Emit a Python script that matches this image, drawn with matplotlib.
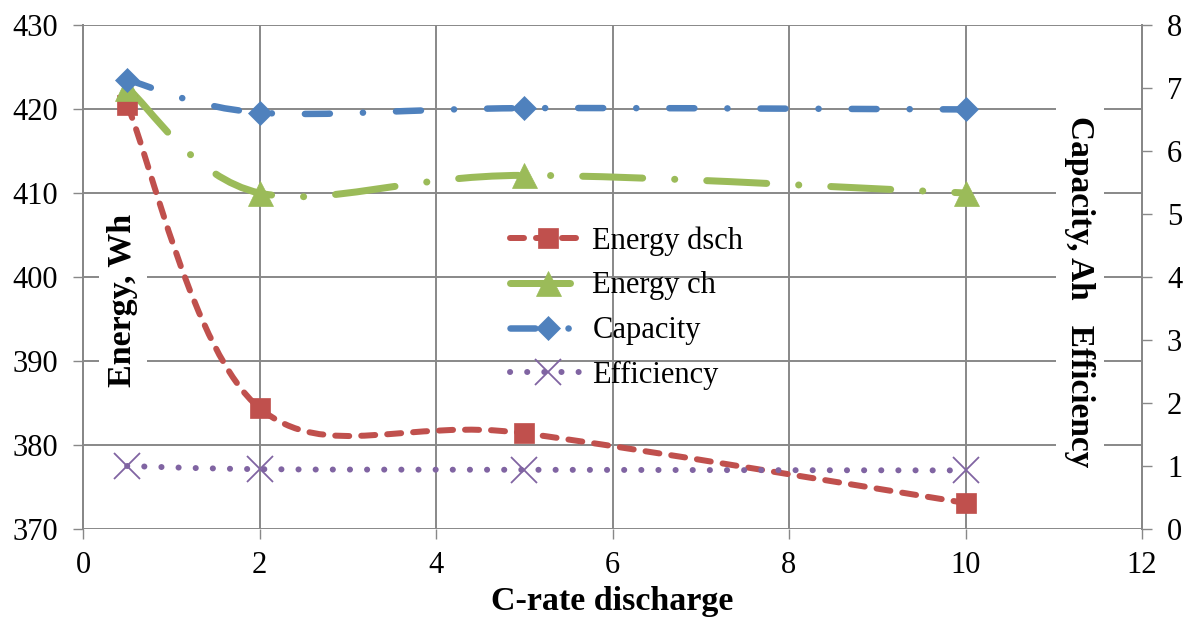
import matplotlib
matplotlib.use("Agg")
import matplotlib.pyplot as plt
import numpy as np
from matplotlib.path import Path
from matplotlib.patches import PathPatch
from matplotlib.lines import Line2D

plt.rcParams["font.family"] = "Liberation Serif"
plt.rcParams["lines.scale_dashes"] = False

# data
crate = [0.5, 2, 5, 10]
energy_dsch = [420.5, 384.4, 381.4, 373.1]   # Wh, left axis
energy_ch = [422.5, 410.0, 412.1, 410.0]     # Wh, left axis
capacity = [7.13, 6.61, 6.68, 6.66]          # Ah, right axis
efficiency = [1.00, 0.95, 0.94, 0.93]        # right axis

x_ticks = [0, 2, 4, 6, 8, 10, 12]
left_ticks = [370, 380, 390, 400, 410, 420, 430]
right_ticks = [0, 1, 2, 3, 4, 5, 6, 7, 8]

RED, GREEN, BLUE, PURPLE = "#C0504D", "#9BBB59", "#4F81BD", "#8064A2"
GRID = "#888888"
PX = 0.72  # points per pixel at dpi 100


def smooth_path(x, y):
    """Excel-style smoothed line: cubic Bezier through the points."""
    pts = np.column_stack([x, y]).astype(float)
    n = len(pts)
    verts, codes = [pts[0]], [Path.MOVETO]
    for i in range(n - 1):
        p0, p1 = pts[max(i - 1, 0)], pts[i]
        p2, p3 = pts[i + 1], pts[min(i + 2, n - 1)]
        verts += [p1 + (p2 - p0) / 6, p2 - (p3 - p1) / 6, p2]
        codes += [Path.CURVE4] * 3
    return Path(verts, codes)


STYLES = {
    "Energy dsch": dict(color=RED, lw=6 * PX, ls=(0, (14 * PX, 12 * PX)), marker="s", ms=15),
    "Energy ch": dict(color=GREEN, lw=7 * PX, ls=(0, (60 * PX, 32 * PX, 0.1, 32 * PX)), marker="^", ms=18),
    "Capacity": dict(color=BLUE, lw=6.5 * PX, ls=(0, (25 * PX, 33 * PX, 0.1, 33 * PX)), marker="D", ms=12.5),
    "Efficiency": dict(color=PURPLE, lw=6 * PX, ls=(0, (0.1, 17 * PX)), marker="x", ms=19),
}

fig = plt.figure(figsize=(11.92, 6.28), dpi=100)
ax = fig.add_axes([83 / 1192, 1 - 529 / 628, (1142 - 83) / 1192, (529 - 25) / 628])
ax2 = ax.twinx()


def draw(axis, x, y, name):
    st = STYLES[name]
    patch = PathPatch(smooth_path(x, y), fill=False, edgecolor=st["color"], lw=st["lw"],
                      linestyle=st["ls"], capstyle="round", joinstyle="round", zorder=3)
    axis.add_patch(patch)
    if st["marker"] == "x":
        axis.plot(x, y, ls="none", marker="x", ms=st["ms"], mec=st["color"], mew=1.3, zorder=4)
    else:
        axis.plot(x, y, ls="none", marker=st["marker"], ms=st["ms"], mfc=st["color"],
                  mec=st["color"], mew=0.5, zorder=4)


draw(ax, crate, energy_dsch, "Energy dsch")
draw(ax, crate, energy_ch, "Energy ch")
draw(ax2, crate, capacity, "Capacity")
draw(ax2, crate, efficiency, "Efficiency")

ax.set_xlim(0, 12)
ax.set_ylim(370, 430)
ax2.set_ylim(0, 8)
ax.set_xticks(x_ticks)
ax.set_yticks(left_ticks)
ax2.set_yticks(right_ticks)

ax.grid(True, color=GRID, lw=1.4)
ax.set_axisbelow(True)
for a in (ax, ax2):
    for side in ("top", "bottom"):
        a.spines[side].set_visible(False)
    a.spines["left"].set_color(GRID)
    a.spines["right"].set_color(GRID)
    a.spines["left"].set_linewidth(1.4)
    a.spines["right"].set_linewidth(1.4)
ax.tick_params(axis="both", direction="out", length=7, width=1.0, color=GRID,
               labelsize=22, pad=11)
ax2.tick_params(axis="y", direction="out", length=7, width=1.0, color=GRID,
                labelsize=22, pad=11)
ax.tick_params(axis="x", pad=9)

ax.set_xlabel("C-rate discharge", fontsize=24.5, fontweight="bold", labelpad=4)

bbox = dict(facecolor="white", edgecolor="none", pad=6)
fig.text(123 / 1192, 1 - 300 / 628, "Energy, Wh", rotation=90, ha="center", va="center",
         fontsize=24.5, fontweight="bold", bbox=bbox, zorder=5)
fig.text(1080 / 1192, 1 - 292 / 628, "Capacity, Ah   Efficiency", rotation=270,
         ha="center", va="center", fontsize=24, fontweight="bold", bbox=bbox, zorder=5)

handles = []
for name, st in STYLES.items():
    h = Line2D([], [], color=st["color"], lw=st["lw"], ls=st["ls"], dash_capstyle="round",
               marker=st["marker"], ms=st["ms"], mfc=st["color"], mec=st["color"],
               mew=1.3 if st["marker"] == "x" else 0.5)
    handles.append(h)
leg = ax2.legend(handles, list(STYLES), loc="upper left", bbox_to_anchor=(510 / 1192, 1 - 226 / 628),
                 bbox_transform=fig.transFigure, frameon=False, fontsize=22, handlelength=2.5,
                 handletextpad=0.2, labelspacing=0.52, borderpad=0, borderaxespad=0)

fig.savefig("out.png", dpi=100)
